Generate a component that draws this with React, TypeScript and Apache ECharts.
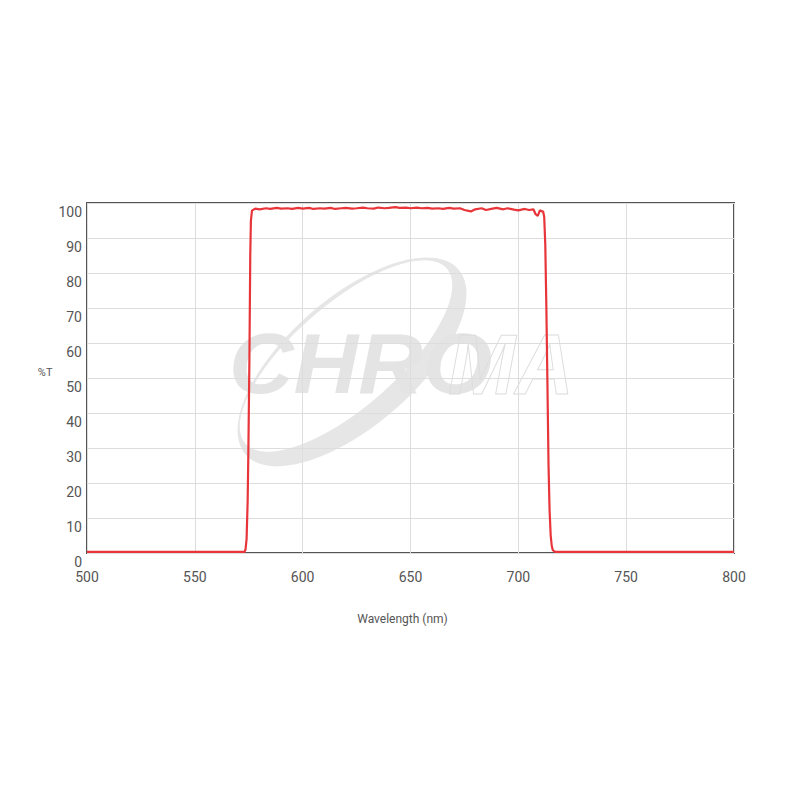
import React, { useEffect, useRef } from "react";
import * as echarts from "echarts";

const wavelengths = [
  500, 550, 570, 573, 573.5, 574, 574.5, 574.8, 575.3, 575.7, 576, 576.5, 578, 580, 583, 585, 588, 590, 593, 595,
  598, 600, 603, 605, 608, 610, 613, 615, 618, 620, 623, 625, 628, 630, 633, 635, 638, 640, 643, 645, 648, 650,
  653, 655, 658, 660, 663, 665, 668, 670, 673, 675, 678, 680, 683, 685, 688, 690, 693, 695, 698, 700, 703, 705,
  707, 708, 709, 710, 711, 711.5, 712, 712.5, 713, 713.5, 714, 714.5, 715, 715.5, 716, 717, 750, 800,
];
const transmission = [
  0.3, 0.3, 0.3, 0.3, 1, 4, 15, 28, 55, 85, 95, 97.8, 98.4, 98.2, 98.5, 98.3, 98.6, 98.4, 98.5, 98.3,
  98.6, 98.4, 98.6, 98.3, 98.5, 98.4, 98.6, 98.3, 98.5, 98.6, 98.4, 98.5, 98.7, 98.5, 98.4, 98.7, 98.5, 98.6, 98.8, 98.6, 98.7, 98.5,
  98.7, 98.5, 98.6, 98.4, 98.5, 98.3, 98.6, 98.4, 98.5, 98.0, 97.6, 98.2, 98.5, 98.0, 98.4, 98.6, 98.2, 98.5, 98.1, 97.9, 98.3, 98.0,
  98.2, 96.8, 96.3, 97.9, 97.6, 97.6, 96, 88, 70, 48, 25, 12, 5, 2, 0.8, 0.3, 0.3, 0.3,
];
const xTicks = { min: 500, max: 800, interval: 50 };
const yTicks = { min: 0, max: 100, interval: 10 };

export default function App() {
  const ref = useRef<HTMLDivElement>(null);
  useEffect(() => {
    if (!ref.current) return;
    const chart = echarts.init(ref.current, null, { renderer: "svg" });
    const data = wavelengths.map((w, i) => [w, transmission[i]]);
    const logoFont = "italic bold 86px 'Liberation Sans', Arial, sans-serif";
    chart.setOption({
      animation: false,
      backgroundColor: "#ffffff",
      textStyle: { fontFamily: "Roboto, 'Liberation Sans', sans-serif" },
      grid: {
        left: 87,
        right: 66,
        top: 203,
        bottom: 247,
        show: true,
        borderColor: "#555555",
        borderWidth: 2,
        backgroundColor: "transparent",
      },
      graphic: [
        {
          type: "group",
          z: -10,
          silent: true,
          children: [
            {
              type: "ellipse",
              x: 352,
              y: 362,
              rotation: (41 * Math.PI) / 180,
              shape: { cx: 0, cy: 0, rx: 141, ry: 64 },
              style: { fill: "#e6e6e6" },
            },
            {
              type: "ellipse",
              x: 346,
              y: 356,
              rotation: (41 * Math.PI) / 180,
              shape: { cx: 0, cy: 0, rx: 134, ry: 52 },
              style: { fill: "#ffffff", stroke: "#e6e6e6", lineWidth: 1 },
            },
            {
              type: "text",
              x: 229,
              y: 364,
              scaleX: 1.04,
              style: {
                text: "CHRO",
                font: logoFont,
                fill: "#e4e4e4",
                verticalAlign: "middle",
              },
            },
            {
              type: "text",
              x: 448,
              y: 364,
              scaleX: 0.94,
              style: {
                text: "MA",
                font: logoFont,
                fill: "rgba(255,255,255,0)",
                stroke: "#dddddd",
                lineWidth: 1,
                verticalAlign: "middle",
              },
            },
          ],
        },
      ],
      xAxis: {
        type: "value",
        min: xTicks.min,
        max: xTicks.max,
        interval: xTicks.interval,
        name: "Wavelength (nm)",
        nameLocation: "middle",
        nameGap: 60,
        nameTextStyle: { color: "#555", fontSize: 12, padding: [0, 16, 0, 0] },
        axisLine: { show: false },
        axisTick: { show: false },
        axisLabel: { color: "#555", fontSize: 14, margin: 17, lineHeight: 14 },
        splitLine: { show: true, lineStyle: { color: "#dddddd", width: 1 } },
      },
      yAxis: {
        type: "value",
        min: yTicks.min,
        max: yTicks.max,
        interval: yTicks.interval,
        name: "%T",
        nameLocation: "middle",
        nameRotate: 0,
        nameGap: 34,
        nameTextStyle: { color: "#555", fontSize: 11, verticalAlign: "bottom" },
        axisLine: { show: false },
        axisTick: { show: false },
        axisLabel: {
          color: "#555",
          fontSize: 14,
          margin: 5,
          verticalAlign: "top",
          lineHeight: 14,
          padding: [2, 0, 0, 0],
        },
        splitLine: { show: true, lineStyle: { color: "#dddddd", width: 1 } },
      },
      series: [
        {
          type: "line",
          data,
          showSymbol: false,
          smooth: false,
          lineStyle: { color: "#e8353a", width: 2.2 },
          z: 5,
        },
      ],
    });
    return () => chart.dispose();
  }, []);
  return (
    <div
      ref={ref}
      style={{ position: "absolute", left: 0, top: 0, width: 800, height: 800 }}
    />
  );
}
